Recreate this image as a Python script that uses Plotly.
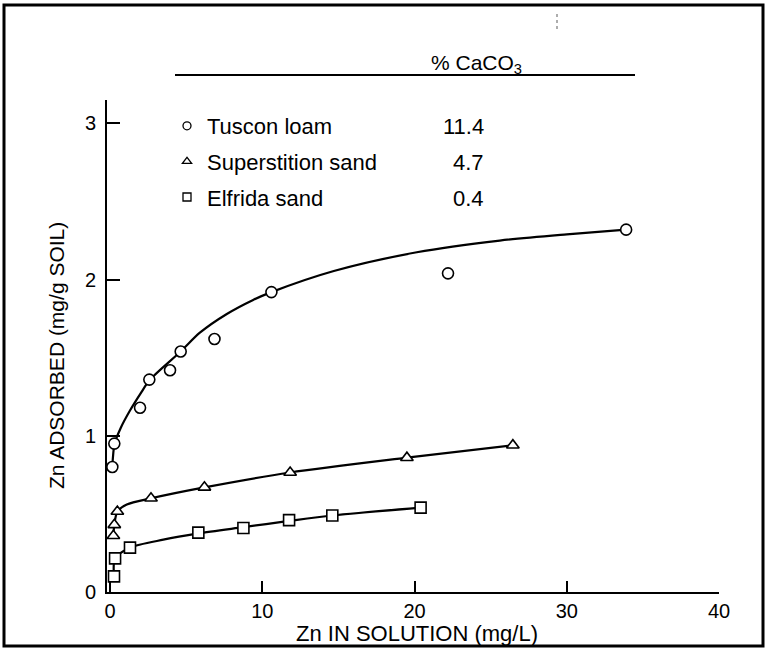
import plotly.graph_objects as go

# ---- data ----
tuscon_x = [0.15, 0.28, 1.97, 2.58, 3.94, 4.64, 6.86, 10.6, 22.2, 33.9]
tuscon_y = [0.80, 0.95, 1.18, 1.36, 1.42, 1.54, 1.62, 1.92, 2.04, 2.32]
superst_x = [0.22, 0.28, 0.48, 2.69, 6.2, 11.83, 19.5, 26.46]
superst_y = [0.36, 0.43, 0.515, 0.60, 0.67, 0.765, 0.86, 0.94]
elfrida_x = [0.26, 0.33, 1.31, 5.8, 8.76, 11.76, 14.6, 20.4]
elfrida_y = [0.10, 0.215, 0.284, 0.38, 0.41, 0.46, 0.49, 0.54]

# fitted curves as traced on the picture
tuscon_cx = [0.15, 0.3, 0.7, 1.3, 2.0, 2.63, 4.64, 5.9, 7.67, 9.4, 10.6, 14.7, 20.15, 25.6, 30.0, 33.9]
tuscon_cy = [0.80, 0.95, 1.05, 1.16, 1.27, 1.36, 1.54, 1.66, 1.78, 1.87, 1.92, 2.055, 2.175, 2.25, 2.29, 2.32]
superst_cx = [0.22, 0.28, 0.48, 1.1, 2.69, 6.2, 11.83, 19.5, 26.46]
superst_cy = [0.36, 0.43, 0.515, 0.56, 0.60, 0.67, 0.765, 0.86, 0.94]
elfrida_cx = [0.26, 0.33, 1.31, 3.5, 5.8, 8.76, 11.76, 14.6, 20.4]
elfrida_cy = [0.10, 0.215, 0.284, 0.335, 0.375, 0.415, 0.455, 0.49, 0.54]

names = ["Tuscon loam", "Superstition sand", "Elfrida sand"]
caco3 = ["11.4", "4.7", "0.4"]
x_ticks = [0, 10, 20, 30, 40]
y_ticks = [0, 1, 2, 3]

FONT = "Liberation Sans, Arial, sans-serif"

# pixel layout helpers
L, R, T, B = 107, 48, 100, 57
W, H = 767, 649
PW, PH = W - L - R, H - T - B
def px(p):
    return (p - L) / PW
def py(p):
    return (H - B - p) / PH

fig = go.Figure()

series = [
    (tuscon_x, tuscon_y, tuscon_cx, tuscon_cy, "circle"),
    (superst_x, superst_y, superst_cx, superst_cy, "triangle-up"),
    (elfrida_x, elfrida_y, elfrida_cx, elfrida_cy, "square"),
]
for i, (xs, ys, cx, cy, sym) in enumerate(series):
    fig.add_trace(go.Scatter(x=cx, y=cy, mode="lines",
                             line=dict(color="black", width=2.2, shape="spline", smoothing=0.8),
                             showlegend=False, hoverinfo="skip"))
for i, (xs, ys, cx, cy, sym) in enumerate(series):
    fig.add_trace(go.Scatter(x=xs, y=ys, mode="markers", name=names[i], showlegend=False,
                             marker=dict(symbol=sym, size=11, color="white",
                                         line=dict(color="black", width=1.6))))
# legend entries (small symbols, as in the key of the figure)
for i, (xs, ys, cx, cy, sym) in enumerate(series):
    fig.add_trace(go.Scatter(x=[None], y=[None], mode="markers", name=names[i], legendgroup=str(i),
                             marker=dict(symbol=sym, size=8, color="white",
                                         line=dict(color="black", width=1.3))))

fig.update_layout(
    width=W, height=H,
    margin=dict(l=L, r=R, t=T, b=B),
    plot_bgcolor="white", paper_bgcolor="white",
    font=dict(family=FONT, size=20, color="black"),
    showlegend=True,
    legend=dict(x=px(167), y=py(105), xanchor="left", yanchor="top",
                bgcolor="rgba(0,0,0,0)", font=dict(size=22),
                traceorder="grouped", tracegroupgap=4, itemsizing="trace"),
    xaxis=dict(range=[-0.2, 40], tickvals=x_ticks, ticks="inside", ticklen=11, tickwidth=1.5,
               tickcolor="black", showline=True, linecolor="black", linewidth=2,
               showgrid=False, zeroline=False, tickfont=dict(size=20)),
    yaxis=dict(range=[0, 3.15], tickvals=y_ticks, ticks="inside", ticklen=13, tickwidth=1.5,
               tickcolor="black", showline=True, linecolor="black", linewidth=2,
               showgrid=False, zeroline=False, tickfont=dict(size=20), ticklabelstandoff=5),
)

ann = []
ann.append(dict(text="Zn IN SOLUTION (mg/L)", x=px(417), y=py(633), xref="paper", yref="paper",
                xanchor="center", yanchor="middle", showarrow=False, font=dict(size=22)))
ann.append(dict(text="Zn ADSORBED (mg/g SOIL)", x=px(56), y=py(356), xref="paper", yref="paper",
                xanchor="center", yanchor="middle", showarrow=False, textangle=-90, font=dict(size=21)))
ann.append(dict(text="% CaCO<sub>3</sub>", x=px(476), y=py(64), xref="paper", yref="paper",
                xanchor="center", yanchor="middle", showarrow=False, font=dict(size=21)))
for i, v in enumerate(caco3):
    ann.append(dict(text=v, x=px(486), y=py(126 + 36 * i), xref="paper", yref="paper",
                    xanchor="right", yanchor="middle", showarrow=False, font=dict(size=22)))
fig.update_layout(annotations=ann)

shapes = [
    dict(type="line", xref="paper", yref="paper", x0=px(175), x1=px(635), y0=py(75), y1=py(75),
         line=dict(color="black", width=1.8)),
    dict(type="rect", xref="paper", yref="paper", x0=px(4), x1=px(763), y0=py(646), y1=py(5),
         line=dict(color="black", width=3)),
    dict(type="line", xref="paper", yref="paper", x0=px(557), x1=px(557), y0=py(29), y1=py(13),
         line=dict(color="#777", width=1.2, dash="dot")),
]
fig.update_layout(shapes=shapes)

fig.write_html("out.html")
